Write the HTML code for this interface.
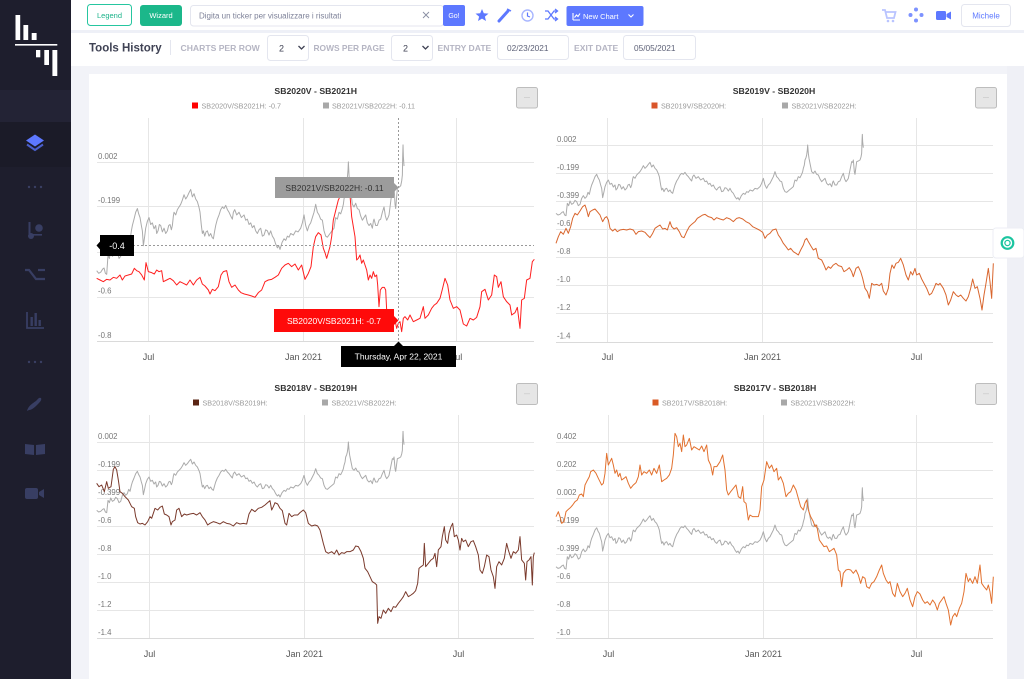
<!DOCTYPE html>
<html><head><meta charset="utf-8"><style>
html,body{margin:0;padding:0;width:1024px;height:679px;overflow:hidden;background:#f2f3f8;}
svg{display:block;font-family:"Liberation Sans",Arial,sans-serif;}
</style></head><body>
<svg width="1024" height="679" viewBox="0 0 1024 679" xmlns="http://www.w3.org/2000/svg">
<defs>
<polyline id="gray" fill="none" stroke="#ababab" stroke-width="1" vector-effect="non-scaling-stroke" stroke-linejoin="round" points="48,415 54,420 60,418 66,412 70,410 74,420 78,422 82,385 86,392 90,378 95,388 100,385 105,376 110,380 115,392 120,388 125,370 130,362 135,370 140,365 144,352 148,358 152,340 155,330 160,318 165,305 170,298 174,308 178,315 182,330 185,340 188,368 192,350 195,335 200,322 205,315 210,328 215,325 220,336 225,330 228,345 232,340 236,328 240,330 245,342 250,335 255,345 260,340 264,330 268,328 272,338 275,330 278,312 280,305 285,310 290,300 295,295 300,290 305,282 310,272 315,280 320,275 325,268 330,262 335,276 340,270 345,280 350,285 355,296 358,305 362,330 365,345 368,340 372,350 376,342 380,340 385,350 390,345 394,352 398,355 402,340 405,330 410,318 415,310 420,300 425,295 430,298 435,292 440,300 445,305 450,312 455,318 458,305 462,300 468,310 475,305 482,315 490,310 495,320 500,318 505,328 510,325 515,334 520,330 525,340 530,345 535,338 540,335 545,350 550,348 555,338 560,340 565,348 570,340 575,350 580,355 585,365 590,372 594,368 598,375 604,362 610,355 615,358 620,350 625,352 630,345 638,348 645,340 652,342 660,335 665,325 670,310 675,330 680,340 685,330 690,325 695,315 700,305 705,290 710,305 715,310 720,318 725,320 730,340 735,350 740,352 748,345 754,340 760,335 763,322 765,315 770,318 775,305 780,308 785,298 788,290 790,280 793,270 795,255 798,248 800,240 802,225 803,210 805,235 807,250 811,270 815,290 820,295 825,288 830,298 835,300 840,312 845,320 850,315 855,310 860,325 865,330 870,326 875,335 878,322 880,318 885,330 890,330 895,320 900,318 905,305 910,295 914,312 918,320 922,315 925,310 930,285 935,260 938,262 940,255 943,290 945,298 948,275 950,260 955,258 960,255 963,246 965,235 966,200 967,178 968,200 970,218"/>
</defs>

<!-- backgrounds -->
<rect x="0" y="0" width="1024" height="679" fill="#f2f3f8"/>
<rect x="1007" y="66" width="17" height="613" fill="#eff0f6"/>
<rect x="89" y="74" width="918" height="605" fill="#ffffff"/>

<!-- sidebar -->
<rect x="0" y="0" width="71" height="679" fill="#1e1e2d"/>
<rect x="0" y="90" width="71" height="32" fill="#232335"/>
<rect x="0" y="122" width="71" height="45" fill="#1b1b28"/>
<!-- logo -->
<g fill="#ffffff">
<rect x="15.5" y="15" width="4.7" height="25"/>
<rect x="23.4" y="25" width="4.8" height="15"/>
<rect x="31.7" y="33" width="4.9" height="7"/>
<rect x="15" y="44" width="42.3" height="1.6"/>
<rect x="36" y="50" width="4.3" height="7.3"/>
<rect x="44.3" y="50" width="4.7" height="15"/>
<rect x="52.4" y="50" width="4.9" height="26"/>
</g>
<!-- sidebar icons -->
<polygon points="35,134.5 44,140.5 35,146.5 26,140.5" fill="#5d78ff"/>
<polyline points="27,144.5 35,150 43,144.5" fill="none" stroke="#4a5fcc" stroke-width="2"/>
<g fill="#3a3f63">
<circle cx="29" cy="187" r="1.2"/><circle cx="35" cy="187" r="1.2"/><circle cx="41" cy="187" r="1.2"/>
<circle cx="29" cy="362" r="1.2"/><circle cx="35" cy="362" r="1.2"/><circle cx="41" cy="362" r="1.2"/>
</g>
<g stroke="#383e63" fill="#383e63">
<rect x="28.5" y="222" width="2" height="12" stroke="none"/>
<circle cx="31" cy="236" r="3" stroke="none"/>
<circle cx="39" cy="228" r="3.8" stroke="none"/>
<rect x="33" y="234" width="9" height="1.6" stroke="none"/>
<path d="M25,270 L29,270 L36,279 L45,279" fill="none" stroke-width="2.2"/>
<path d="M38,270 L45,270" fill="none" stroke-width="2.2"/>
<path d="M27,312 L27,328 L44,328" fill="none" stroke-width="1.8"/>
<rect x="30.5" y="317" width="2.4" height="9" stroke="none"/>
<rect x="34.5" y="313" width="2.4" height="13" stroke="none"/>
<rect x="38.5" y="320" width="2.4" height="6" stroke="none"/>
<path d="M41,398 C42,400 40,402 38,404 C35,407 32,410 29,410 L27,411 C28,406 33,403 36,401 C38,399 39,397 41,398 Z" stroke="none"/>
<path d="M25,444 L34,445 L34,455 L25,454 Z" stroke="none"/>
<path d="M36,445 L45,444 L45,454 L36,455 Z" stroke="none"/>
<rect x="25" y="488" width="13" height="11" rx="2" stroke="none"/>
<polygon points="39,492 44,489 44,498 39,495" stroke="none"/>
</g>

<!-- top bars -->
<rect x="71" y="0" width="953" height="30" fill="#ffffff"/>
<rect x="71" y="30" width="953" height="3" fill="#eef0f7"/>
<rect x="71" y="33" width="953" height="33" fill="#ffffff"/>

<rect x="87.5" y="4.5" width="44" height="21" rx="3" fill="#fff" stroke="#26c6a0"/>
<text x="109.5" y="17.8" font-size="7.5" fill="#1bb38a" text-anchor="middle">Legend</text>
<rect x="140" y="5" width="42" height="21" rx="3" fill="#1bb78a"/>
<text x="161" y="17.8" font-size="7.5" fill="#ffffff" text-anchor="middle">Wizard</text>
<rect x="190.5" y="5.5" width="253" height="20.5" rx="3" fill="#fff" stroke="#e4e6ef"/>
<text x="199" y="18.3" font-size="8" fill="#7e8299">Digita un ticker per visualizzare i risultati</text>
<path d="M423,12 L429,18 M429,12 L423,18" stroke="#8a8fa3" stroke-width="0.9"/>
<rect x="443" y="5" width="22" height="21" rx="2" fill="#5d78ff"/>
<text x="454" y="18" font-size="7" fill="#ffffff" text-anchor="middle">Go!</text>
<polygon points="482,9 483.8,13.3 488.5,13.6 484.9,16.6 486,21 482,18.6 478,21 479.1,16.6 475.5,13.6 480.2,13.3" fill="#5d78ff"/>
<path d="M499,21 L508,11" stroke="#5d78ff" stroke-width="3" stroke-linecap="round"/>
<path d="M507,9 L511,11" stroke="#5d78ff" stroke-width="1.5"/>
<circle cx="527.5" cy="15.5" r="5.5" fill="none" stroke="#a8b6ff" stroke-width="1.4"/>
<path d="M527.5,12.5 L527.5,16 L530,17" fill="none" stroke="#5d78ff" stroke-width="1.2"/>
<path d="M545,11 L548,11 L554,19 L557,19 M545,19 L548,19 L554,11 L557,11 M555,9 L557.5,11 L555,13 M555,17 L557.5,19 L555,21" fill="none" stroke="#5d78ff" stroke-width="1.3"/>
<rect x="566.5" y="6" width="77" height="20" rx="2" fill="#5d78ff"/>
<path d="M573,20 L573,13 M573,20 L580,20 M574.5,17.5 L576.5,15 L578,16.5 L580,13.5" fill="none" stroke="#fff" stroke-width="1.1"/>
<text x="583" y="18.8" font-size="7.5" fill="#ffffff">New Chart</text>
<polyline points="628.5,14.5 631,17 633.5,14.5" fill="none" stroke="#fff" stroke-width="1.1"/>
<path d="M882,10 L885,10 L887,18 L894,18 L895.5,12 L886,12" fill="none" stroke="#b9c4ff" stroke-width="1.8"/>
<circle cx="888" cy="21" r="1.3" fill="#b9c4ff"/><circle cx="893" cy="21" r="1.3" fill="#b9c4ff"/>
<g fill="#7d92ff"><circle cx="916" cy="9.5" r="2"/><circle cx="916" cy="20.5" r="2"/><circle cx="910.5" cy="15" r="2"/><circle cx="921.5" cy="15" r="2"/></g>
<rect x="936" y="11" width="10" height="9" rx="1.5" fill="#5d78ff"/>
<polygon points="946.5,14 951,11.5 951,19.5 946.5,17" fill="#5d78ff"/>
<rect x="961.5" y="4.5" width="49" height="22" rx="3" fill="#fff" stroke="#e4e6ef"/>
<text x="986" y="18.3" font-size="8" fill="#5d78ff" text-anchor="middle">Michele</text>

<text x="89" y="51.5" font-size="11.5" font-weight="bold" fill="#3f4254">Tools History</text>
<rect x="170" y="40" width="1" height="15" fill="#e4e6ef"/>
<text x="180.5" y="50.8" font-size="8.6" font-weight="bold" fill="#b5b5c3">CHARTS PER ROW</text>
<rect x="267.5" y="35.5" width="41" height="25" rx="3" fill="#fff" stroke="#e4e6ef"/>
<text x="279" y="51.3" font-size="9" fill="#3f4254">2</text>
<polyline points="298.5,46 301.5,49 304.5,46" fill="none" stroke="#3f4254" stroke-width="1.3"/>
<text x="313.5" y="50.8" font-size="8.4" font-weight="bold" fill="#b5b5c3">ROWS PER PAGE</text>
<rect x="391.5" y="35.5" width="41" height="25" rx="3" fill="#fff" stroke="#e4e6ef"/>
<text x="403" y="51.3" font-size="9" fill="#3f4254">2</text>
<polyline points="422.5,46 425.5,49 428.5,46" fill="none" stroke="#3f4254" stroke-width="1.3"/>
<text x="437.5" y="50.8" font-size="8.6" font-weight="bold" fill="#b5b5c3">ENTRY DATE</text>
<rect x="497.5" y="35.5" width="71" height="24" rx="3" fill="#fff" stroke="#e4e6ef"/>
<text x="507" y="50.8" font-size="8.3" fill="#5e6278">02/23/2021</text>
<text x="574" y="50.8" font-size="8.6" font-weight="bold" fill="#b5b5c3">EXIT DATE</text>
<rect x="623.5" y="35.5" width="72" height="24" rx="3" fill="#fff" stroke="#e4e6ef"/>
<text x="634" y="50.8" font-size="8.3" fill="#5e6278">05/05/2021</text>

<!-- ===================== CHART 1 ===================== -->
<g stroke="#e6e6e6" stroke-width="1">
<path d="M97,162.5 H534 M97,206.5 H534 M97,252.5 H534 M97,297.5 H534"/>
<path d="M148.5,118 V342 M303.5,118 V342 M456.5,118 V342"/>
</g>
<path d="M97,341.5 H534" stroke="#dadada"/>
<g font-size="7.8" fill="#777">
<text x="98" y="158.8">0.002</text>
<text x="98" y="203.2">-0.199</text>
<text x="98" y="293.6">-0.6</text>
<text x="98" y="338.2">-0.8</text>
</g>
<g font-size="9" fill="#555" text-anchor="middle">
<text x="148.5" y="360">Jul</text>
<text x="303.5" y="360">Jan 2021</text>
<text x="456.5" y="360">Jul</text>
</g>
<text x="315.7" y="94" font-size="8.7" font-weight="bold" fill="#333" text-anchor="middle">SB2020V - SB2021H</text>
<rect x="192" y="102.5" width="6" height="6" fill="#ff0000"/>
<text x="201.5" y="108.3" font-size="7.2" fill="#999">SB2020V/SB2021H:  -0.7</text>
<rect x="323" y="102.5" width="6" height="6" fill="#a8a8a8"/>
<text x="332" y="108.3" font-size="7.2" fill="#999">SB2021V/SB2022H:  -0.11</text>
<rect x="516.5" y="87.5" width="21" height="20.5" rx="2" fill="#e6e6e6" stroke="#bdbdbd"/>
<text x="527" y="99" font-size="6" fill="#777" text-anchor="middle">···</text>

<g transform="matrix(0.33333,0,0,0.5307,80.7,50.4)"><use href="#gray"/></g>
<g transform="translate(85,200) scale(0.33333)">
<polyline fill="none" stroke="#ff1f1f" stroke-width="1" vector-effect="non-scaling-stroke" stroke-linejoin="round" points="35,235 45,240 55,245 65,238 75,240 85,232 95,235 105,225 112,240 120,228 130,225 140,222 148,205 155,212 162,215 170,225 178,240 183,188 190,215 200,218 208,222 215,210 222,215 230,212 235,245 245,240 255,235 265,242 275,255 285,245 295,250 305,255 315,240 325,255 335,240 345,232 352,252 360,258 370,270 375,282 382,268 390,272 400,260 408,225 415,215 425,212 432,245 440,262 450,255 460,270 468,278 478,282 490,285 500,288 510,292 520,278 530,270 540,245 550,240 560,238 570,232 580,225 590,205 600,195 610,190 620,200 630,192 640,210 650,195 660,238 670,220 678,200 685,140 692,110 700,98 708,105 715,145 720,158 725,175 735,140 740,110 745,60 750,40 755,20 760,0 765,-10 770,-20 775,-30 780,-20 785,-40 790,-20 795,-15 800,50 805,80 810,110 815,180 820,175 825,165 830,190 835,180 840,195 845,210 850,240 855,225 860,235 865,215 870,230 875,225 878,255 882,320 886,270 892,262 898,262 902,270 905,330 910,340 920,345 930,360 935,385 940,370 945,365 950,395 955,355 960,350 968,360 975,345 985,365 995,360 1005,355 1015,320 1020,355 1030,345 1040,325 1048,315 1055,310 1065,295 1072,268 1080,235 1088,255 1095,300 1105,325 1115,320 1125,330 1135,372 1145,378 1155,355 1165,360 1175,352 1185,320 1190,275 1200,268 1210,300 1220,285 1228,225 1235,230 1240,262 1248,245 1255,290 1265,305 1275,315 1280,345 1290,338 1297,322 1305,385 1310,300 1318,295 1325,240 1335,235 1342,185 1348,178"/>
</g>

<!-- crosshairs & tooltips chart 1 -->
<path d="M398.5,118 V342" stroke="#999" stroke-dasharray="2,2"/>
<path d="M97,245.5 H534" stroke="#999" stroke-dasharray="2,2"/>
<rect x="100" y="235" width="34" height="21" fill="#000"/>
<polygon points="96.5,245.5 100.5,241 100.5,250" fill="#000"/>
<text x="117" y="248.8" font-size="9" fill="#fff" text-anchor="middle">-0.4</text>
<rect x="275" y="177" width="119" height="21" fill="#9c9c9c"/>
<polygon points="394,183 398.5,187.5 394,192" fill="#9c9c9c"/>
<text x="334.5" y="190.8" font-size="8.5" fill="#333" text-anchor="middle">SB2021V/SB2022H: -0.11</text>
<rect x="274" y="309" width="120" height="23" fill="#ff0a0a"/>
<polygon points="394,316 398.5,320.5 394,325" fill="#ff0a0a"/>
<text x="334" y="323.8" font-size="8.5" fill="#fff" text-anchor="middle">SB2020V/SB2021H: -0.7</text>
<rect x="341" y="346" width="115" height="21" fill="#000"/>
<polygon points="394,346 398.5,341.5 403,346" fill="#000"/>
<text x="398.5" y="359.7" font-size="8.5" fill="#fff" text-anchor="middle">Thursday, Apr 22, 2021</text>

<!-- ===================== CHART 2 ===================== -->
<g stroke="#e6e6e6" stroke-width="1">
<path d="M556,145.5 H993 M556,173.5 H993 M556,201.5 H993 M556,229.5 H993 M556,257.5 H993 M556,285.5 H993 M556,313.5 H993"/>
<path d="M607.5,118 V342 M762.5,118 V342 M916.5,118 V342"/>
</g>
<path d="M556,342.5 H993" stroke="#dadada"/>
<g font-size="7.8" fill="#777">
<text x="557" y="142">0.002</text>
<text x="557" y="170">-0.199</text>
<text x="557" y="198">-0.399</text>
<text x="557" y="226">-0.6</text>
<text x="557" y="254">-0.8</text>
<text x="557" y="282">-1.0</text>
<text x="557" y="310">-1.2</text>
<text x="557" y="338.5">-1.4</text>
</g>
<g font-size="9" fill="#555" text-anchor="middle">
<text x="607.5" y="360">Jul</text>
<text x="762.5" y="360">Jan 2021</text>
<text x="916.5" y="360">Jul</text>
</g>
<text x="774" y="94" font-size="8.7" font-weight="bold" fill="#333" text-anchor="middle">SB2019V - SB2020H</text>
<rect x="651.5" y="102.5" width="6" height="6" fill="#d9552a"/>
<text x="661" y="108.3" font-size="7.2" fill="#999">SB2019V/SB2020H:</text>
<rect x="782" y="102.5" width="6" height="6" fill="#a8a8a8"/>
<text x="791.5" y="108.3" font-size="7.2" fill="#999">SB2021V/SB2022H:</text>
<rect x="975.5" y="87.5" width="21" height="20.5" rx="2" fill="#e6e6e6" stroke="#bdbdbd"/>
<text x="986" y="99" font-size="6" fill="#777" text-anchor="middle">···</text>

<g transform="translate(540,75) scale(0.33333)"><use href="#gray"/>
<polyline fill="none" stroke="#d9662e" stroke-width="1" vector-effect="non-scaling-stroke" stroke-linejoin="round" points="48,505 55,485 62,470 70,478 78,460 85,475 92,455 98,430 105,415 112,420 120,408 128,395 135,390 140,405 145,425 150,410 158,405 165,402 172,410 180,420 188,440 195,428 200,425 205,435 210,460 218,468 225,462 232,470 240,465 250,463 260,465 270,462 280,465 288,478 295,470 305,468 315,472 322,480 330,488 338,475 345,460 352,455 360,450 368,462 375,460 382,465 390,440 395,455 402,462 410,458 418,470 425,485 432,488 440,470 448,455 455,448 465,440 472,430 480,425 488,420 495,418 505,425 515,428 522,435 530,428 540,432 550,435 560,428 570,432 580,440 590,430 598,428 608,432 618,440 628,445 638,455 648,460 658,465 668,472 675,490 682,480 690,475 698,465 708,462 715,480 722,490 730,505 738,515 745,525 752,520 760,530 768,535 775,540 782,525 790,510 795,495 800,490 805,500 812,512 820,525 828,520 835,550 845,555 852,570 858,585 865,575 872,580 880,570 888,565 895,572 905,575 912,590 920,585 928,578 935,590 940,605 948,580 955,575 962,590 968,610 975,640 982,650 988,670 995,625 1002,630 1010,628 1018,632 1025,625 1030,648 1038,660 1045,640 1050,595 1056,570 1062,580 1068,565 1075,562 1082,550 1090,570 1098,600 1105,615 1112,590 1118,600 1125,580 1130,600 1138,595 1145,612 1152,625 1160,640 1168,660 1175,655 1182,640 1188,625 1195,630 1200,625 1210,640 1218,660 1225,690 1232,675 1240,650 1248,660 1255,665 1262,660 1270,670 1278,678 1285,665 1292,640 1298,612 1305,640 1312,635 1320,670 1326,705 1332,660 1338,625 1345,580 1350,620 1355,670 1360,565"/>
</g>

<!-- ===================== CHART 3 ===================== -->
<g stroke="#e6e6e6" stroke-width="1">
<path d="M97,442.5 H534 M97,470.5 H534 M97,498.5 H534 M97,526.5 H534 M97,554.5 H534 M97,582.5 H534 M97,610.5 H534"/>
<path d="M149.5,415 V639 M304.5,415 V639 M458.5,415 V639"/>
</g>
<path d="M97,638.5 H534" stroke="#dadada"/>
<g font-size="7.8" fill="#777">
<text x="98" y="439">0.002</text>
<text x="98" y="467">-0.199</text>
<text x="98" y="495">-0.399</text>
<text x="98" y="523">-0.6</text>
<text x="98" y="551">-0.8</text>
<text x="98" y="579">-1.0</text>
<text x="98" y="607">-1.2</text>
<text x="98" y="635">-1.4</text>
</g>
<g font-size="9" fill="#555" text-anchor="middle">
<text x="149.5" y="657">Jul</text>
<text x="304.5" y="657">Jan 2021</text>
<text x="458.5" y="657">Jul</text>
</g>
<text x="315.7" y="391" font-size="8.7" font-weight="bold" fill="#333" text-anchor="middle">SB2018V - SB2019H</text>
<rect x="193" y="399.5" width="6" height="6" fill="#5a2414"/>
<text x="202.5" y="405.3" font-size="7.2" fill="#999">SB2018V/SB2019H:</text>
<rect x="322" y="399.5" width="6" height="6" fill="#a8a8a8"/>
<text x="331.5" y="405.3" font-size="7.2" fill="#999">SB2021V/SB2022H:</text>
<rect x="516.5" y="383.5" width="21" height="21" rx="2" fill="#e6e6e6" stroke="#bdbdbd"/>
<text x="527" y="395.5" font-size="6" fill="#777" text-anchor="middle">···</text>

<g transform="matrix(0.33333,0,0,0.33333,80.7,372)"><use href="#gray"/></g>
<g transform="translate(85,370) scale(0.33333)">
<polyline fill="none" stroke="#7a3a2c" stroke-width="1" vector-effect="non-scaling-stroke" stroke-linejoin="round" points="35,340 42,350 50,345 58,365 65,335 70,355 78,350 85,298 90,290 95,300 100,330 105,365 112,370 120,380 130,390 140,410 148,415 152,440 158,458 165,462 172,460 180,465 188,455 195,440 200,445 210,415 218,420 225,412 232,408 238,432 245,435 252,440 258,465 262,455 270,450 275,420 282,415 290,440 298,432 305,435 315,432 325,430 335,435 345,428 352,440 360,450 368,465 375,460 385,455 395,458 405,462 415,455 425,460 435,462 445,468 455,458 465,462 475,460 485,462 492,432 500,418 510,425 520,415 530,412 540,405 548,398 555,392 560,420 565,410 570,398 578,402 585,415 592,422 600,460 605,465 612,430 620,440 628,435 638,435 645,428 655,420 662,428 670,460 680,468 690,465 698,468 705,480 710,500 715,520 722,545 730,550 740,545 748,552 755,540 762,555 770,548 778,550 785,545 795,545 805,540 812,528 820,530 828,545 835,565 840,595 848,605 855,620 862,635 870,640 875,645 878,760 882,740 888,745 895,720 902,730 910,715 918,725 925,710 932,712 940,700 948,690 955,680 962,665 970,680 978,675 985,670 992,662 998,640 1002,595 1008,590 1015,585 1018,520 1022,590 1030,580 1038,570 1045,565 1050,550 1055,590 1060,540 1068,530 1072,500 1078,470 1082,510 1088,520 1092,490 1098,470 1103,460 1108,500 1115,495 1120,510 1125,540 1130,505 1135,515 1142,510 1150,530 1158,515 1165,512 1172,530 1180,555 1185,600 1192,610 1198,590 1205,555 1212,560 1218,600 1225,620 1230,655 1235,590 1242,575 1250,585 1258,565 1265,520 1270,540 1278,565 1285,545 1292,550 1300,540 1305,500 1310,570 1318,580 1322,630 1326,575 1332,570 1338,560 1342,645 1345,560 1348,548"/>
</g>

<!-- ===================== CHART 4 ===================== -->
<g stroke="#e6e6e6" stroke-width="1">
<path d="M556,442.5 H993 M556,470.5 H993 M556,498.5 H993 M556,526.5 H993 M556,554.5 H993 M556,582.5 H993 M556,610.5 H993"/>
<path d="M608.5,415 V639 M763.5,415 V639 M916.5,415 V639"/>
</g>
<path d="M556,638.5 H993" stroke="#dadada"/>
<g font-size="7.8" fill="#777">
<text x="557" y="439">0.402</text>
<text x="557" y="467">0.202</text>
<text x="557" y="495">0.002</text>
<text x="557" y="523">-0.199</text>
<text x="557" y="551">-0.399</text>
<text x="557" y="579">-0.6</text>
<text x="557" y="607">-0.8</text>
<text x="557" y="635">-1.0</text>
</g>
<g font-size="9" fill="#555" text-anchor="middle">
<text x="608.5" y="657">Jul</text>
<text x="763.5" y="657">Jan 2021</text>
<text x="916.5" y="657">Jul</text>
</g>
<text x="775" y="391" font-size="8.7" font-weight="bold" fill="#333" text-anchor="middle">SB2017V - SB2018H</text>
<rect x="652.5" y="399.5" width="6" height="6" fill="#d95a25"/>
<text x="662" y="405.3" font-size="7.2" fill="#999">SB2017V/SB2018H:</text>
<rect x="781" y="399.5" width="6" height="6" fill="#a8a8a8"/>
<text x="790.5" y="405.3" font-size="7.2" fill="#999">SB2021V/SB2022H:</text>
<rect x="975.5" y="383.5" width="21" height="21" rx="2" fill="#e6e6e6" stroke="#bdbdbd"/>
<text x="986" y="395.5" font-size="6" fill="#777" text-anchor="middle">···</text>

<g transform="matrix(0.33333,0,0,0.33333,540,428.4)"><use href="#gray"/></g>
<g transform="translate(540,370) scale(0.33333)">
<polyline fill="none" stroke="#e2712f" stroke-width="1" vector-effect="non-scaling-stroke" stroke-linejoin="round" points="48,440 55,425 60,440 65,460 72,455 78,425 85,418 92,412 98,405 105,395 112,390 118,375 125,372 130,380 135,345 140,335 148,320 152,305 160,300 168,310 175,325 180,335 185,345 190,340 195,310 200,250 205,285 210,275 215,265 220,285 225,310 230,300 235,320 240,310 245,330 252,325 258,320 265,340 272,355 280,345 288,338 295,320 300,285 305,315 312,305 320,310 328,300 335,315 342,295 350,310 358,285 365,335 372,330 380,325 388,315 395,295 400,255 405,190 410,200 415,230 420,220 425,245 430,195 435,230 440,225 448,205 455,240 462,230 470,235 478,240 485,228 492,245 500,225 505,270 512,285 518,315 522,290 530,290 540,275 548,255 555,300 560,360 565,375 572,365 580,355 588,345 595,380 602,385 608,350 612,395 618,400 625,450 630,435 638,440 645,440 655,440 660,420 665,350 672,330 680,275 688,295 695,285 702,305 710,295 715,330 722,320 730,340 738,380 745,370 752,365 760,345 768,360 775,385 782,410 790,420 795,400 800,390 805,420 812,440 820,455 825,470 830,465 838,510 845,520 852,530 860,528 868,545 875,540 882,535 890,555 895,600 900,605 905,650 910,610 918,600 925,598 932,600 940,610 948,600 955,615 962,640 968,620 975,625 980,650 988,655 995,640 1002,635 1010,620 1018,600 1025,585 1030,610 1038,630 1045,640 1050,635 1058,670 1065,680 1072,640 1080,665 1088,680 1095,670 1102,655 1110,690 1118,710 1125,680 1132,665 1140,672 1148,690 1155,700 1162,695 1170,705 1178,690 1185,700 1192,720 1198,700 1205,690 1212,680 1218,700 1225,720 1232,765 1238,740 1245,730 1250,740 1258,715 1265,700 1272,665 1278,610 1285,635 1290,625 1298,640 1305,620 1312,640 1320,585 1325,640 1332,650 1340,660 1345,645 1350,665 1355,700 1360,620"/>
</g>

<!-- chat widget -->
<rect x="993" y="228" width="31" height="30" rx="3" fill="#ffffff" stroke="#eceef4"/>
<circle cx="1007.5" cy="243" r="5.8" fill="none" stroke="#1bc5a0" stroke-width="2.2"/>
<circle cx="1007.5" cy="243" r="2.6" fill="none" stroke="#1bc5a0" stroke-width="1.3"/>
</svg>
</body></html>
